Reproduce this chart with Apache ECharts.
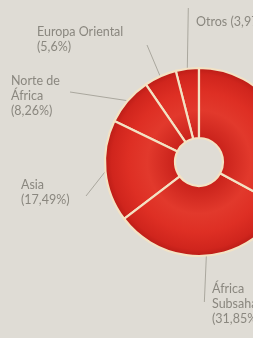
<!DOCTYPE html>
<html>
<head>
<meta charset="utf-8">
<script src="https://cdn.jsdelivr.net/npm/echarts@6/dist/echarts.min.js"></script>
<style>
  html, body { margin: 0; padding: 0; background: #dfdcd5; }
  #chart { width: 253px; height: 338px; }
</style>
</head>
<body>
<div id="chart"></div>
<script>
// datos (reparto por región)
const regions = ['Otros', 'Europa Oriental', 'Norte de\nÁfrica', 'Asia', 'África\nSubsahariana', 'Resto'];
const shares = [3.97, 5.6, 8.26, 17.49, 31.85, 32.83];
const shareLabels = ['3,97%', '5,6%', '8,26%', '17,49%', '31,85%', ''];

// posición de cada etiqueta y punto final de su línea guía
const labelSpots = [
  { x: 196, y: 14, end: p => [p[0] + 1, 8] },
  { x: 37, y: 24, end: () => [147, 45] },
  { x: 11, y: 73, end: () => [70, 92] },
  { x: 21, y: 177, end: () => [86, 196] },
  { x: 212, y: 281, end: p => [p[0] - 2, 302] },
  null
];

const chart = echarts.init(document.getElementById('chart'));

chart.setOption({
  backgroundColor: '#dfdcd5',
  animation: false,
  series: [{
    type: 'pie',
    center: [199, 162],
    radius: [24, 94],
    startAngle: 90,
    clockwise: false,
    avoidLabelOverlap: false,
    data: regions.map((name, i) => ({
      name: name,
      value: shares[i],
      label: { show: i < 5 },
      labelLine: { show: i < 5 }
    })),
    itemStyle: {
      color: {
        type: 'radial', x: 199, y: 162, r: 94, global: true,
        colorStops: [
          { offset: 0.25, color: '#c9221b' },
          { offset: 0.55, color: '#e2392c' },
          { offset: 0.75, color: '#de2f24' },
          { offset: 0.93, color: '#d0251d' },
          { offset: 1, color: '#bb1d17' }
        ]
      },
      borderColor: '#f3e2c4',
      borderWidth: 2.2
    },
    label: {
      position: 'outer',
      color: '#8a877f',
      fontFamily: 'Lato',
      fontSize: 12.5,
      lineHeight: 15,
      formatter: p => p.dataIndex === 0
        ? p.name + ' (' + shareLabels[0] + ')'
        : p.name + '\n(' + shareLabels[p.dataIndex] + ')'
    },
    labelLine: {
      lineStyle: { color: '#9c998f', width: 0.8 }
    },
    labelLayout: params => {
      const spot = labelSpots[params.dataIndex];
      if (!spot) return {};
      const p0 = params.labelLinePoints ? params.labelLinePoints[0] : [0, 0];
      return {
        x: spot.x,
        y: spot.y,
        align: 'left',
        verticalAlign: 'top',
        labelLinePoints: [p0, spot.end(p0)]
      };
    }
  }]
});
</script>
</body>
</html>
